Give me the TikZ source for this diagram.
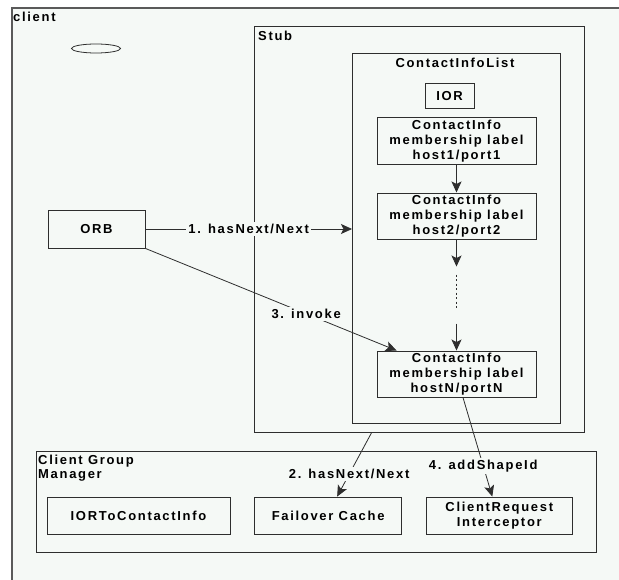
\documentclass[tikz,border=0pt]{standalone}
\usepackage{fontspec}
\setmainfont{Liberation Sans}[LetterSpace=13]
\usetikzlibrary{
  shapes.geometric,
  arrows.meta,
  positioning,
  calc
}
\definecolor{PaperTint}{HTML}{F5F9F6}
\definecolor{InkGray}{HTML}{2E2E2E}
\definecolor{FrameGray}{HTML}{5A5A5A}
\tikzset{
  % Plain box: size given per node
  box/.style={
    rectangle, draw=InkGray, line width=0.9pt, fill=PaperTint,
    align=center, inner sep=2pt,
    font=\bfseries\fontsize{13}{15}\selectfont
  },
  % Container outline, placed by its top left corner
  grp/.style={
    rectangle, draw=InkGray, line width=0.9pt,
    anchor=north west
  },
  % Container title
  ttl/.style={
    anchor=west, inner sep=0pt, align=left,
    font=\bfseries\fontsize{13}{14}\selectfont
  },
  % Arrow
  arr/.style={
    -{Stealth[length=11pt,width=10pt,inset=2.5pt]},
    line width=0.8pt, color=InkGray
  },
  % Edge label
  lbl/.style={
    fill=PaperTint, inner sep=2pt, text=black,
    font=\bfseries\fontsize{13}{15}\selectfont
  }
}
\begin{document}
\begin{tikzpicture}[x=1pt, y=1pt]
  \useasboundingbox (0,0) rectangle (619,579);
  \clip (0,0) rectangle (619,579);

  % containers
  \node[grp, draw=FrameGray, line width=1.8pt, fill=PaperTint,
        minimum width=700pt, minimum height=640pt] (client) at (11,572) {};
  \node[grp, minimum width=330pt, minimum height=406pt] (stub)   at (254,553) {};
  \node[grp, minimum width=208pt, minimum height=370pt] (cilist) at (352,526) {};
  \node[grp, minimum width=560pt, minimum height=101pt] (cgm)    at (35.5,128) {};

  \node[ttl] (clientttl) at (13,562)   {client};
  \node[ttl] (stubttl)   at (258,543)  {Stub};
  \node[ttl, anchor=center] (cilistttl) at (455,516) {ContactInfoList};
  \node[ttl, anchor=north west] (cgmttl) at (38,124) {Client Group\\Manager};

  \node[ellipse, draw=InkGray, line width=0.8pt, minimum width=49pt,
        minimum height=9pt, inner sep=0pt] (blob) at (96,530.5) {};

  % contact info chain
  \node[box, minimum width=159pt, minimum height=46pt] (ci1) at (456.5,438)
       {ContactInfo\\membership label\\host1/port1};
  \node[box, minimum width=49pt, minimum height=25pt, above=9pt of ci1, xshift=-7pt] (ior) {IOR};
  \node[box, minimum width=159pt, minimum height=46pt, below=28pt of ci1] (ci2)
       {ContactInfo\\membership label\\host2/port2};
  \node[box, minimum width=159pt, minimum height=46pt, below=111pt of ci2] (cin)
       {ContactInfo\\membership label\\hostN/portN};

  \coordinate[below=27pt of ci2] (dotA);
  \coordinate[below=35pt of ci2] (dotB);
  \coordinate[below=70pt of ci2] (dotC);
  \coordinate[below=84pt of ci2] (dotD);

  % client side boxes
  \node[box, minimum width=97pt, minimum height=38pt] (orb) at (96.5,350) {ORB};
  \node[box, minimum width=183pt, minimum height=37pt] (ior2ci) at (138.5,63.5) {IORToContactInfo};
  \node[box, minimum width=146.5pt, minimum height=37pt, right=24pt of ior2ci] (failover) {Failover Cache};
  \node[box, minimum width=146pt, minimum height=37pt, right=24pt of failover] (intercept)
       {ClientRequest\\Interceptor};

  \draw[arr] (ci1) -- (ci2);
  \draw[arr] (ci2) -- (dotA);
  \draw[InkGray, line width=0.9pt, dash pattern=on 2pt off 2.5pt] (dotB) -- (dotC);
  \draw[arr] (dotD) -- (cin);

  \draw[arr] (orb.east) -- node[lbl] {1. hasNext/Next} (orb.east -| cilist.west);
  \draw[arr] (orb.south east) -- node[lbl, pos=0.64] {3. invoke} ([xshift=20pt]cin.north west);
  \draw[arr] ([xshift=-48pt]stub.south) -- node[lbl, pos=0.65] {2. hasNext/Next} ([xshift=9pt]failover.north);
  \draw[arr] ([xshift=6.5pt]cin.south) -- node[lbl, pos=0.69] {4. addShapeId} ([xshift=-7pt]intercept.north);
\end{tikzpicture}
\end{document}
